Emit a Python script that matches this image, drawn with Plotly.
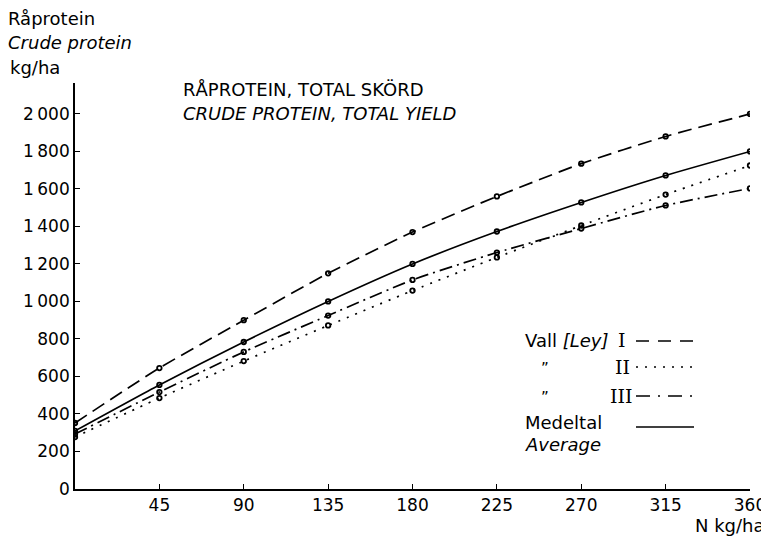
import plotly.graph_objects as go

n_rates = [0, 45, 90, 135, 180, 225, 270, 315, 360]
ley_I = [352, 645, 900, 1150, 1370, 1560, 1735, 1880, 2000]
ley_II = [277, 485, 682, 872, 1058, 1235, 1405, 1570, 1725]
ley_III = [293, 517, 731, 925, 1115, 1261, 1389, 1512, 1603]
average = [310, 555, 784, 1000, 1200, 1373, 1528, 1672, 1800]

x_ticks = [45, 90, 135, 180, 225, 270, 315, 360]
y_ticks = [0, 200, 400, 600, 800, 1000, 1200, 1400, 1600, 1800, 2000]
y_ticklabels = ["0", "200", "400", "600", "800", "1\u2009000", "1\u2009200", "1\u2009400",
                "1\u2009600", "1\u2009800", "2\u2009000"]

FONT = "DejaVu Sans"
OFF = 8  # page body margin
W, H = 769 - OFF, 538 - OFF
L, R, T, B = 75 - OFF, 19, 83 - OFF, 49
PW, PH = W - L - R, H - T - B

def px(xp):
    return (xp - OFF - L) / PW

def py(yp):
    return (H + OFF - B - yp) / PH

fig = go.Figure()
series = [
    (ley_I, "14px,7px"),
    (ley_II, "2px,7px"),
    (ley_III, "13px,5px,2px,5px"),
    (average, "solid"),
]
for vals, dash in series:
    fig.add_trace(go.Scatter(
        x=n_rates, y=vals, mode="lines+markers",
        line=dict(color="black", width=1.7, dash=dash, shape="spline", smoothing=0.6),
        marker=dict(symbol="circle-open", size=4.5, color="black", line=dict(width=1.8)),
        showlegend=False, hoverinfo="skip",
    ))

fig.update_layout(
    width=W, height=H,
    margin=dict(l=L, r=R, t=T, b=B),
    paper_bgcolor="white", plot_bgcolor="white",
    font=dict(family=FONT, size=16, color="black"),
    xaxis=dict(range=[0, 360], tickvals=x_ticks, ticks="inside", ticklen=5,
               tickwidth=1.3, tickcolor="black", showline=True, linecolor="black",
               linewidth=1.7, showgrid=False, zeroline=False, automargin=False,
               tickfont=dict(family=FONT, size=17)),
    yaxis=dict(range=[0, 2165], tickvals=y_ticks, ticktext=y_ticklabels,
               ticks="inside", ticklen=5, tickwidth=1.3, tickcolor="black",
               showline=True, linecolor="black", linewidth=1.7, showgrid=False,
               zeroline=False, automargin=False, tickfont=dict(family=FONT, size=17)),
)

ann = []
def text(x, y, s, anchor="left", size=18, family=FONT):
    ann.append(dict(x=px(x), y=py(y), xref="paper", yref="paper", text=s,
                    showarrow=False, xanchor=anchor, yanchor="middle",
                    font=dict(family=family, size=size, color="black")))

# y axis title
text(6, 19, "Råprotein")
text(6, 43, "<i>Crude protein</i>")
text(8, 67, "kg/ha")
# chart title
text(181, 89, "RÅPROTEIN, TOTAL SKÖRD")
text(181, 114, "<i>CRUDE PROTEIN, TOTAL YIELD</i>")
# x axis title
text(767, 525, "N kg/ha", anchor="right")

# legend
text(523, 340, "Vall <i>[Ley]</i>")
text(539, 369, "\u201d", size=15)
text(539, 398, "\u201d", size=15)
text(523, 422, "Medeltal")
text(523, 444, "<i>Average</i>")
SERIF = "DejaVu Serif"
text(622, 340, "I", anchor="center", family=SERIF, size=19)
text(622, 367, "II", anchor="center", family=SERIF, size=19)
text(621, 396, "III", anchor="center", family=SERIF, size=19)
fig.update_layout(annotations=ann)

shapes = []
for yl, dash in [(341, "13px,9px"), (367, "2px,7px"), (396, "14px,8px,2px,8px"), (427, "solid")]:
    shapes.append(dict(type="line", xref="paper", yref="paper",
                       x0=px(636), x1=px(694), y0=py(yl), y1=py(yl),
                       line=dict(color="black", width=1.7, dash=dash)))
fig.update_layout(shapes=shapes)

fig.write_html("out.html")
